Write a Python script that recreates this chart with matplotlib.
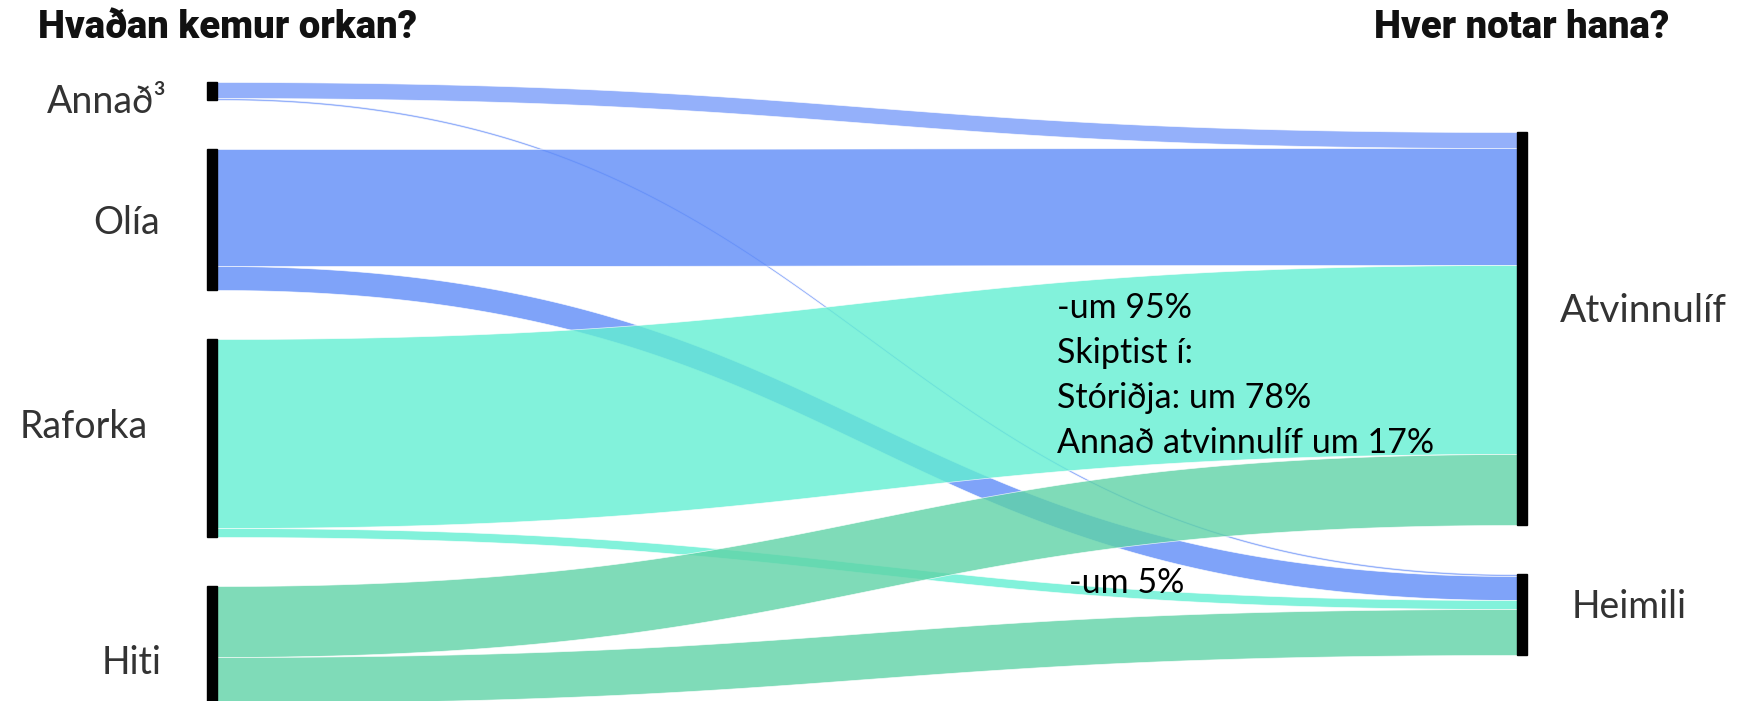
import numpy as np
import matplotlib
import matplotlib.pyplot as plt
from matplotlib.patches import Rectangle
matplotlib.use('Agg')

# gögn: hvaðan kemur orkan og hver notar hana
sources = ['Annað³', 'Olía', 'Raforka', 'Hiti']
targets = ['Atvinnulíf', 'Heimili']
link_src = [0, 0, 1, 1, 2, 2, 3, 3]
link_tgt = [0, 1, 0, 1, 0, 1, 0, 1]
link_val = [16, 2, 117, 24, 189, 9, 71, 46]

note_main = ['-um 95%', 'Skiptist í:', 'Stóriðja: um 78%', 'Annað atvinnulíf um 17%']
note_small = '-um 5%'

# litir (teiknaðir með alpha 0.8 á hvítan bakgrunn)
src_colors = ['#7a9cf9', '#5f8cf8', '#63efd2', '#5fd3a7']
link_alpha = 0.8

# útlit í pixlum
W, H = 1749, 701
x_left, x_right = 207, 1517
node_w = 10
gap = 49
left_top, right_top = 82, 132

fig = plt.figure(figsize=(W / 100, H / 100), dpi=100)
ax = fig.add_axes([0, 0, 1, 1])
ax.set_xlim(0, W)
ax.set_ylim(H, 0)
ax.axis('off')

# hnútar
src_tot = [sum(v for s, v in zip(link_src, link_val) if s == i) for i in range(len(sources))]
tgt_tot = [sum(v for t, v in zip(link_tgt, link_val) if t == j) for j in range(len(targets))]

src_y = []
y = left_top
for tot in src_tot:
    src_y.append(y)
    y += tot + gap
tgt_y = []
y = right_top
for tot in tgt_tot:
    tgt_y.append(y)
    y += tot + gap

# tengingar
t = np.linspace(0, 1, 300)
x0, x1 = x_left + node_w, x_right
xs = x0 + (x1 - x0) * (1.5 * t * (1 - t) + t ** 3)
ease = 3 * t ** 2 - 2 * t ** 3

src_off = list(src_y)
tgt_off = list(tgt_y)
for s, g, v in zip(link_src, link_tgt, link_val):
    a0, b0 = src_off[s], tgt_off[g]
    src_off[s] += v
    tgt_off[g] += v
    top = a0 + (b0 - a0) * ease
    ax.fill_between(xs, top, top + v, color=src_colors[s], alpha=link_alpha,
                    linewidth=0.5, edgecolor='white', zorder=2)

for i, tot in enumerate(src_tot):
    ax.add_patch(Rectangle((x_left, src_y[i]), node_w, tot, color='black', zorder=3))
for j, tot in enumerate(tgt_tot):
    ax.add_patch(Rectangle((x_right, tgt_y[j]), node_w, tot, color='black', zorder=3))

label_font = ['Lato', 'DejaVu Sans']
src_lab_x = [167, 160, 148, 162]
src_lab_dy = [11, 3, -11, 19]
for i, name in enumerate(sources):
    ax.text(src_lab_x[i], src_y[i] + src_tot[i] / 2 + src_lab_dy[i], name,
            ha='right', va='center', fontsize=27, color='#333333', family=label_font)

# hægri merkin - "Atvinnulíf" er skorið af eins og í frumgerðinni
tgt_lab_x = [1560, 1572]
tgt_lab_dy = [-17, -7]
tgt_lab_size = [28, 27]
clip = Rectangle((0, 0), 1722, H, transform=ax.transData, visible=False)
ax.add_patch(clip)
for j, name in enumerate(targets):
    txt = ax.text(tgt_lab_x[j], tgt_y[j] + tgt_tot[j] / 2 + tgt_lab_dy[j], name,
                  ha='left', va='center', fontsize=tgt_lab_size[j], color='#333333',
                  family=label_font)
    txt.set_clip_path(clip)

# fyrirsagnir
title_font = ['Roboto', 'DejaVu Sans']
ax.text(38, 27, 'Hvaðan kemur orkan?', ha='left', va='center', fontsize=27.5,
        fontweight='heavy', family=title_font, color='#111111')
ax.text(1374, 27, 'Hver notar hana?', ha='left', va='center', fontsize=27.5,
        fontweight='heavy', family=title_font, color='#111111')

# skýringartexti
note_font = ['Lato', 'DejaVu Sans']
for k, line in enumerate(note_main):
    ax.text(1057, 318 + 45 * k, line, ha='left', va='baseline', fontsize=24.5,
            color='black', family=note_font, zorder=5)
ax.text(1069, 593, note_small, ha='left', va='baseline', fontsize=24.5,
        color='black', family=note_font, zorder=5)

fig.savefig('out.png', dpi=100)
